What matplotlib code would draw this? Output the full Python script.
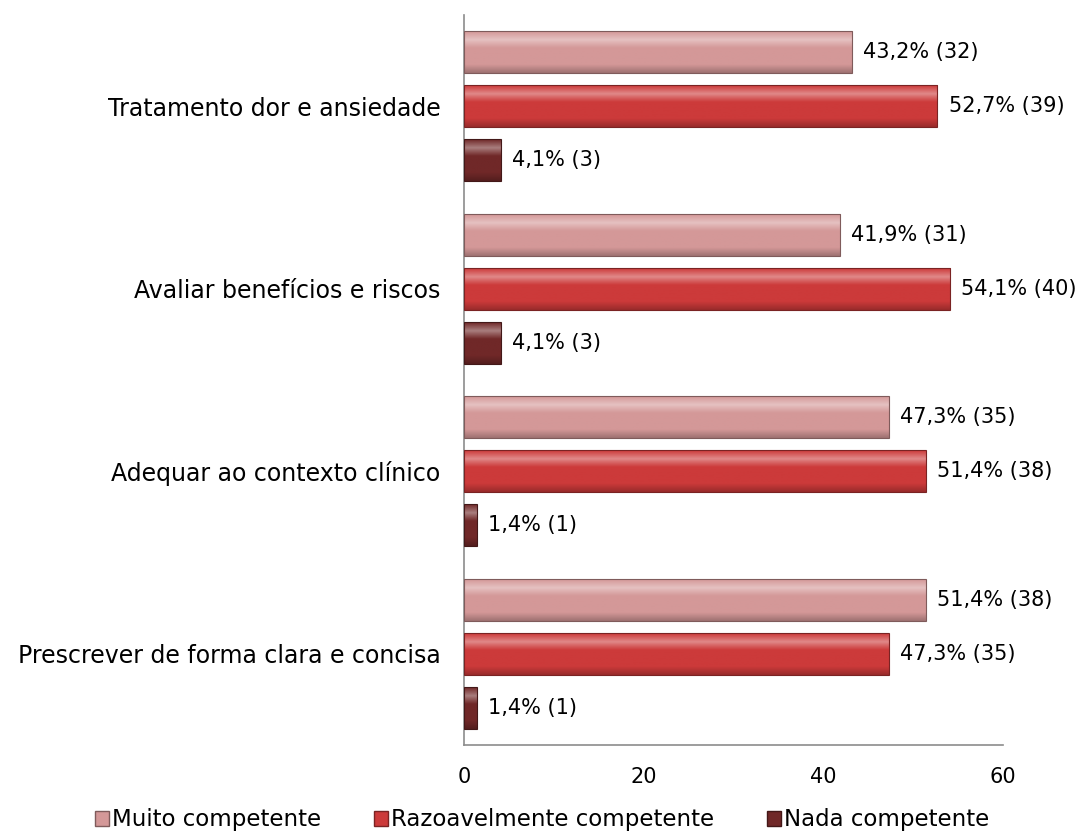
import numpy as np
import matplotlib
matplotlib.use("Agg")
import matplotlib.pyplot as plt
import matplotlib.patches as patches
from matplotlib.colors import LinearSegmentedColormap, to_rgb

# categories from bottom to top
categories = ["Prescrever de forma clara e concisa", "Adequar ao contexto clínico",
              "Avaliar benefícios e riscos", "Tratamento dor e ansiedade"]
series = ["Muito competente", "Razoavelmente competente", "Nada competente"]
pct = {
    "Muito competente": [51.4, 47.3, 41.9, 43.2],
    "Razoavelmente competente": [47.3, 51.4, 54.1, 52.7],
    "Nada competente": [1.4, 1.4, 4.1, 4.1],
}
counts = {
    "Muito competente": [38, 35, 31, 32],
    "Razoavelmente competente": [35, 38, 40, 39],
    "Nada competente": [1, 1, 3, 3],
}
colors = {"Muito competente": "#d49898", "Razoavelmente competente": "#cc3a3a",
          "Nada competente": "#702828"}
offsets = {"Muito competente": 0.295, "Razoavelmente competente": 0.0, "Nada competente": -0.295}

plt.rcParams['font.family'] = ['DejaVu Sans']
fig = plt.figure(figsize=(10.85, 8.36), dpi=100)
ax = fig.add_axes([0.4276, 0.1089, 0.4968, 0.8731])

bar_h = 0.23


def shade_cmap(c):
    r = np.array(to_rgb(c))
    light = r + (1 - r) * 0.4
    dark = r * 0.75
    # bottom -> top
    return LinearSegmentedColormap.from_list("s", [dark, r, r, r, light, r], N=256)


y = np.arange(len(categories))
for s in series:
    cm = shade_cmap(colors[s])
    grad = np.linspace(0, 1, 64).reshape(-1, 1)
    for i in range(len(categories)):
        yc = y[i] + offsets[s]
        v = pct[s][i]
        ax.imshow(grad, cmap=cm, aspect='auto', origin='lower',
                  extent=[0, v, yc - bar_h / 2, yc + bar_h / 2], zorder=2)
        ax.add_patch(patches.Rectangle((0, yc - bar_h / 2), v, bar_h, fill=False,
                                       edgecolor=np.array(to_rgb(colors[s])) * 0.6,
                                       linewidth=0.8, zorder=3))
        lab = f"{v:.1f}%".replace('.', ',') + f" ({counts[s][i]})"
        ax.annotate(lab, (v, yc), xytext=(8, 0), textcoords="offset points",
                    va='center', ha='left', fontsize=15)

ax.set_xlim(0, 60)
ax.set_ylim(-0.5, 3.5)
ax.set_xticks([0, 20, 40, 60])
ax.set_yticks(y)
ax.set_yticklabels(categories, fontsize=17)
ax.tick_params(axis='both', length=0)
ax.tick_params(axis='x', pad=16, labelsize=15)
ax.tick_params(axis='y', pad=17)
for sp in ["top", "right"]:
    ax.spines[sp].set_visible(False)
for sp in ["left", "bottom"]:
    ax.spines[sp].set_color("#8c8c8c")
    ax.spines[sp].set_linewidth(1.2)

handles = [patches.Patch(facecolor=colors[s], edgecolor=np.array(to_rgb(colors[s])) * 0.6, label=s)
           for s in series]
fig.legend(handles=handles, loc='lower center', bbox_to_anchor=(0.5, 0.0), ncol=3,
           frameon=False, fontsize=16.5, handlelength=0.6, handleheight=0.6,
           handletextpad=0.15, columnspacing=2.3, borderaxespad=0.1, borderpad=0.1)

fig.savefig("out.png", dpi=100)
